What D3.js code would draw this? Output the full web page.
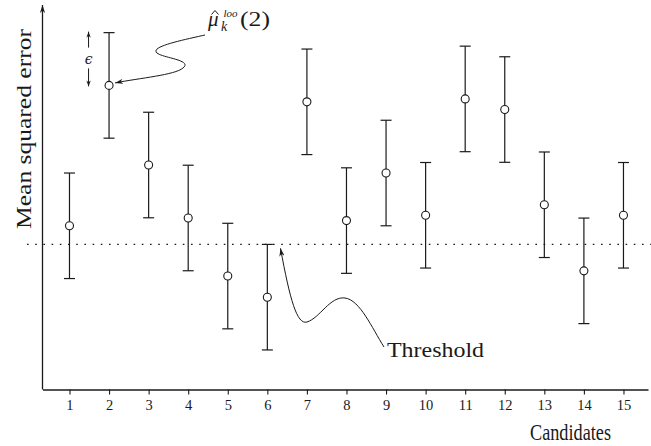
<!DOCTYPE html>
<html>
<head>
<meta charset="utf-8">
<script src="https://cdn.jsdelivr.net/npm/d3@7"></script>
<style>
  html, body { margin: 0; padding: 0; background: #fff; }
  svg { display: block; }
  text { font-family: "Liberation Serif", "DejaVu Serif", serif; fill: #1a1a1a; }
</style>
</head>
<body>
<svg id="chart" width="651" height="446"></svg>
<script>
// Candidate indices, estimated mean squared errors and the shared half-width epsilon
const candidates = [1, 2, 3, 4, 5, 6, 7, 8, 9, 10, 11, 12, 13, 14, 15];
const mse = [1.635, 3.037, 2.242, 1.713, 1.133, 0.922, 2.873, 1.687, 2.162, 1.740, 2.902, 2.796, 1.845, 1.185, 1.740];
const epsilon = 0.527;
const threshold = 1.45;
const tickLabels = candidates.map(String);

const svg = d3.select("#chart");
const ink = "#1a1a1a";

const x = d3.scaleLinear().domain([0.318, 15.62]).range([42.5, 648]);
const y = d3.scaleLinear().domain([0, 3.84]).range([389.5, 5]);

// arrowheads
const defs = svg.append("defs");
function arrow(id, len, half) {
  defs.append("marker")
    .attr("id", id)
    .attr("viewBox", `0 ${-half} ${len} ${2 * half}`)
    .attr("refX", len).attr("refY", 0)
    .attr("markerUnits", "userSpaceOnUse")
    .attr("markerWidth", len).attr("markerHeight", 2 * half)
    .attr("orient", "auto-start-reverse")
    .append("path")
    .attr("d", `M0,${-half} L${len},0 L0,${half} L${len * 0.3},0 Z`)
    .attr("fill", ink);
}
arrow("head", 8, 2.6);
arrow("headSmall", 6, 2.2);

// x axis
const xAxis = d3.axisBottom(x)
  .tickValues(candidates)
  .tickFormat((d, i) => tickLabels[i])
  .tickSize(5)
  .tickSizeOuter(0);
const gx = svg.append("g").attr("transform", "translate(0,389.5)").call(xAxis);
gx.select(".domain").attr("stroke", ink).attr("stroke-width", 1.3);
gx.selectAll(".tick line").attr("stroke", ink).attr("stroke-width", 1.1);
gx.selectAll(".tick text")
  .attr("y", 20).attr("dy", 0)
  .style("font-family", "'Liberation Serif', serif")
  .style("font-size", "14.5px")
  .attr("fill", ink);

// y axis (no ticks, arrow at the top)
const yAxis = d3.axisLeft(y).tickValues([]).tickSizeOuter(0);
const gy = svg.append("g").attr("transform", "translate(42.5,0)").call(yAxis);
gy.select(".domain")
  .attr("stroke", ink).attr("stroke-width", 1.3)
  .attr("marker-end", "url(#head)");
gy.select(".domain").attr("d", `M0,${y(0)}V${y(3.84)}`);

// axis titles
svg.append("text")
  .attr("x", 530).attr("y", 440)
  .attr("textLength", 81).attr("lengthAdjust", "spacingAndGlyphs")
  .style("font-size", "23px")
  .text("Candidates");

svg.append("text")
  .attr("transform", "translate(31,129) rotate(-90)")
  .attr("text-anchor", "middle")
  .attr("textLength", 200).attr("lengthAdjust", "spacingAndGlyphs")
  .style("font-size", "21px")
  .attr("fill", "#222")
  .text("Mean squared error");

// threshold line
svg.append("line")
  .attr("x1", 27).attr("x2", 651)
  .attr("y1", y(threshold)).attr("y2", y(threshold))
  .attr("stroke", ink).attr("stroke-width", 1.3)
  .attr("stroke-dasharray", "1.6,6.6");

// error bars
const rows = candidates.map((c, i) => ({ c, v: mse[i] }));
const bars = svg.append("g").selectAll("g").data(rows).join("g");
const capHalf = 5.5;
bars.append("line")
  .attr("x1", d => x(d.c)).attr("x2", d => x(d.c))
  .attr("y1", d => y(d.v + epsilon)).attr("y2", d => y(d.v - epsilon))
  .attr("stroke", ink).attr("stroke-width", 1.2);
bars.append("line")
  .attr("x1", d => x(d.c) - capHalf).attr("x2", d => x(d.c) + capHalf)
  .attr("y1", d => y(d.v + epsilon)).attr("y2", d => y(d.v + epsilon))
  .attr("stroke", ink).attr("stroke-width", 1.2);
bars.append("line")
  .attr("x1", d => x(d.c) - capHalf).attr("x2", d => x(d.c) + capHalf)
  .attr("y1", d => y(d.v - epsilon)).attr("y2", d => y(d.v - epsilon))
  .attr("stroke", ink).attr("stroke-width", 1.2);
bars.append("circle")
  .attr("cx", d => x(d.c)).attr("cy", d => y(d.v))
  .attr("r", 4)
  .attr("fill", "#fff").attr("stroke", ink).attr("stroke-width", 1.1);

// epsilon annotation next to candidate 2
const c2 = rows[1];
const ex = x(c2.c) - 20.5;
svg.append("line")
  .attr("x1", ex).attr("x2", ex)
  .attr("y1", y(c2.v + epsilon) + 15).attr("y2", y(c2.v + epsilon) - 1)
  .attr("stroke", ink).attr("stroke-width", 1).attr("marker-end", "url(#headSmall)");
svg.append("line")
  .attr("x1", ex).attr("x2", ex)
  .attr("y1", y(c2.v) - 17).attr("y2", y(c2.v) + 1)
  .attr("stroke", ink).attr("stroke-width", 1).attr("marker-end", "url(#headSmall)");
svg.append("text")
  .attr("x", ex).attr("y", (y(c2.v + epsilon) + y(c2.v)) / 2 + 4.5)
  .attr("text-anchor", "middle")
  .style("font-family", "'DejaVu Serif', serif")
  .style("font-style", "italic")
  .style("font-size", "14px")
  .text("ϵ");

// estimator label with curly pointer to candidate 2
const lbl = svg.append("g");
lbl.append("text").attr("x", 208).attr("y", 26)
  .style("font-style", "italic").style("font-size", "21px").text("μ");
// hat accent over mu
lbl.append("path")
  .attr("d", "M211.5,14.5 L215,10.5 L218.5,14.5")
  .attr("fill", "none").attr("stroke", ink).attr("stroke-width", 1);
lbl.append("text").attr("x", 221).attr("y", 31)
  .style("font-style", "italic").style("font-size", "14px").text("k");
lbl.append("text").attr("x", 223.5).attr("y", 17)
  .style("font-style", "italic").style("font-size", "11px").text("loo");
lbl.append("text").attr("x", 240).attr("y", 26)
  .attr("textLength", 30).attr("lengthAdjust", "spacingAndGlyphs")
  .style("font-size", "20px").text("(2)");

svg.append("path")
  .attr("d", "M205,35 C178,41 150,47 157,53 C163,58 193,60 183,68 C175,75 140,78 " + (x(c2.c) + 6) + "," + (y(c2.v) - 2.5))
  .attr("fill", "none").attr("stroke", ink).attr("stroke-width", 1)
  .attr("marker-end", "url(#head)");

// threshold pointer and label
svg.append("path")
  .attr("d", "M384,347 C372,328 360,300 345,298 C330,296 320,318 307,322 C297,325 290,300 " + 280.5 + "," + (y(threshold) + 4))
  .attr("fill", "none").attr("stroke", ink).attr("stroke-width", 1)
  .attr("marker-end", "url(#head)");

svg.append("text")
  .attr("x", 387).attr("y", 357)
  .attr("textLength", 97).attr("lengthAdjust", "spacingAndGlyphs")
  .style("font-size", "20px")
  .text("Threshold");
</script>
</body>
</html>
